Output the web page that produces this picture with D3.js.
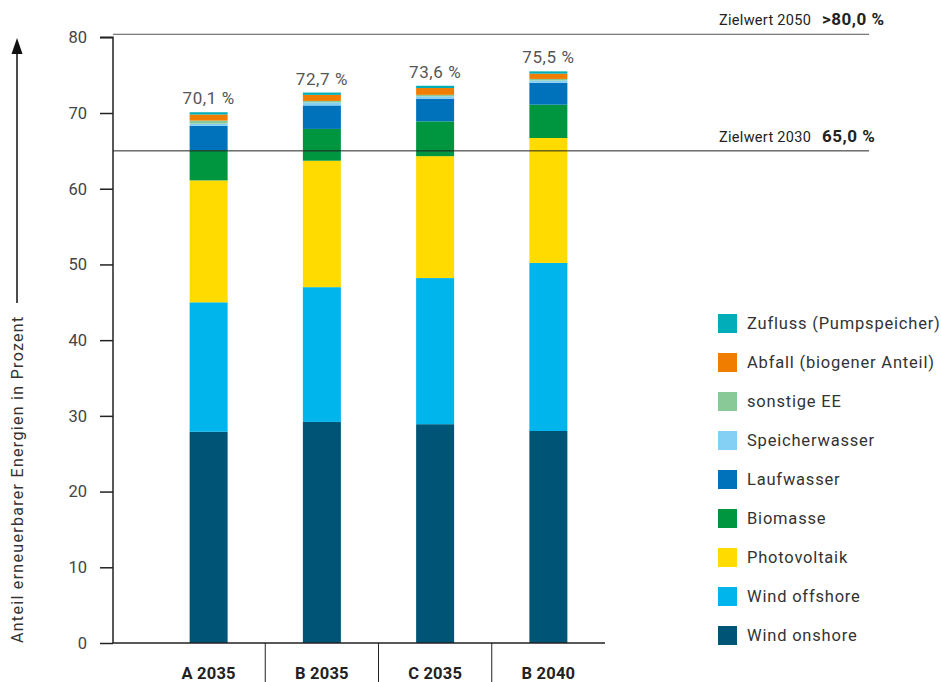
<!DOCTYPE html>
<html><head><meta charset="utf-8">
<script src="https://cdn.jsdelivr.net/npm/d3@7"></script>
<style>body{margin:0;background:#fff} text{font-family:Roboto, "DejaVu Sans", sans-serif}</style>
</head><body><svg id="c" width="941" height="682"></svg>
<script>
const categories = ["A 2035", "B 2035", "C 2035", "B 2040"];
const seriesNames = ["Wind onshore", "Wind offshore", "Photovoltaik", "Biomasse", "Laufwasser", "Speicherwasser", "sonstige EE", "Abfall (biogener Anteil)", "Zufluss (Pumpspeicher)"];
const seriesColors = ["#005577", "#00b4ec", "#ffdb00", "#009640", "#0072bb", "#84d0f5", "#88c997", "#f07d00", "#00adb9"];
const windOnshore   = [27.9, 29.2, 28.9, 28.0];
const windOffshore  = [17.1, 17.8, 19.3, 22.2];
const photovoltaik  = [16.1, 16.7, 16.1, 16.5];
const biomasse      = [4.0, 4.2, 4.6, 4.4];
const laufwasser    = [3.2, 3.1, 3.0, 2.9];
const speicherwasser= [0.3, 0.4, 0.3, 0.3];
const sonstigeEE    = [0.4, 0.2, 0.2, 0.2];
const abfall        = [0.8, 0.8, 0.9, 0.7];
const zufluss       = [0.3, 0.3, 0.3, 0.3];
const totalLabels = ["70,1 %", "72,7 %", "73,6 %", "75,5 %"];
const totals = [70.1, 72.7, 73.6, 75.5];
const yTicks = [0, 10, 20, 30, 40, 50, 60, 70, 80];
const targetValues = [65.0, 80.4];
const targetNames = ["Zielwert 2030", "Zielwert 2050"];
const targetValueLabels = ["65,0 %", ">80,0 %"];
const yTitle = "Anteil erneuerbarer Energien in Prozent";

const seriesData = [windOnshore, windOffshore, photovoltaik, biomasse, laufwasser, speicherwasser, sonstigeEE, abfall, zufluss];
const rows = categories.map((c, i) => {
  const r = {cat: c};
  seriesNames.forEach((s, j) => r[s] = seriesData[j][i]);
  return r;
});

const svg = d3.select("#c");
const axisX = 113, chartRight = 605, lineRight = 869;
const y = d3.scaleLinear().domain([0, 80]).range([643, 37.3]);
const x = d3.scaleBand().domain(categories).range([152, chartRight]).paddingInner(0).paddingOuter(0);
const barW = 38;
const color = d3.scaleOrdinal().domain(seriesNames).range(seriesColors);

const stack = d3.stack().keys(seriesNames)(rows);

// bars
svg.append("g").selectAll("g").data(stack).join("g")
  .attr("fill", d => color(d.key))
  .selectAll("rect").data(d => d).join("rect")
  .attr("x", d => x(d.data.cat) + x.bandwidth() / 2 - barW / 2)
  .attr("width", barW)
  .attr("y", d => y(d[1]))
  .attr("height", d => y(d[0]) - y(d[1]));

// target lines
targetValues.forEach((v, i) => {
  svg.append("line").attr("x1", axisX).attr("x2", lineRight)
    .attr("y1", y(v)).attr("y2", y(v))
    .attr("stroke", i === 0 ? "#222" : "#555").attr("stroke-width", 1);
  const t = svg.append("text").attr("x", 719).attr("y", y(v) - 9).attr("fill", "#222");
  t.append("tspan").attr("font-size", 14.5).attr("letter-spacing", 0.3).text(targetNames[i]);
  t.append("tspan").attr("x", 822).attr("font-size", 17).attr("letter-spacing", 0.5).attr("font-weight", "bold").text(targetValueLabels[i]);
});

// y axis
const yAxis = d3.axisLeft(y).tickValues(yTicks).tickSize(13).tickPadding(13).tickFormat(d3.format("d"));
const gy = svg.append("g").attr("transform", `translate(${axisX},0)`).call(yAxis);
gy.select(".domain").attr("stroke", "#222").attr("stroke-width", 1.5).attr("d", `M-13,${y(80)}H0V${y(0)}`);
gy.selectAll(".tick line").attr("stroke", "#222").attr("stroke-width", 1.5);
gy.selectAll(".tick text").attr("font-size", 16.5).attr("fill", "#444").attr("font-family", "Roboto");

// x axis baseline and dividers
svg.append("line").attr("x1", axisX).attr("x2", chartRight).attr("y1", y(0)).attr("y2", y(0))
  .attr("stroke", "#222").attr("stroke-width", 1.5);
categories.slice(1).forEach(c => {
  svg.append("line").attr("x1", x(c)).attr("x2", x(c)).attr("y1", y(0)).attr("y2", 682)
    .attr("stroke", "#222").attr("stroke-width", 1);
});
categories.forEach(c => {
  svg.append("text").attr("x", x(c) + x.bandwidth() / 2).attr("y", 679)
    .attr("text-anchor", "middle").attr("font-size", 16.5).attr("letter-spacing", 0.2).attr("font-weight", "bold").attr("fill", "#222").text(c);
});

// total labels
categories.forEach((c, i) => {
  svg.append("text").attr("x", x(c) + x.bandwidth() / 2).attr("y", y(totals[i]) - 8)
    .attr("text-anchor", "middle").attr("font-size", 17).attr("letter-spacing", 0.6).attr("fill", "#555").text(totalLabels[i]);
});

// legend
const legendNames = seriesNames.slice().reverse();
legendNames.forEach((n, i) => {
  const ly = 314 + i * 39;
  svg.append("rect").attr("x", 718).attr("y", ly).attr("width", 19).attr("height", 19).attr("fill", color(n));
  svg.append("text").attr("x", 747).attr("y", ly + 15).attr("font-size", 16.5).attr("letter-spacing", 0.8).attr("fill", "#333").text(n);
});

// y title + arrow
svg.append("text").attr("transform", `translate(23,643) rotate(-90)`).attr("font-size", 16).attr("letter-spacing", 1.3).attr("fill", "#333").text(yTitle);
svg.append("line").attr("x1", 17).attr("x2", 17).attr("y1", 303).attr("y2", 50).attr("stroke", "#111").attr("stroke-width", 1.5);
svg.append("path").attr("d", d3.line()([[11.5, 54], [17, 38], [22.5, 54]]) + "Z").attr("fill", "#111");
</script></body></html>
